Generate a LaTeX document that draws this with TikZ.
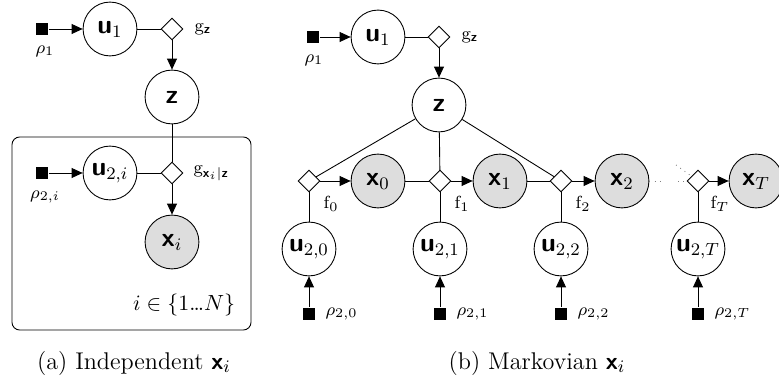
\documentclass[tikz,border=0pt]{standalone}
\usepackage{amsmath}
\usetikzlibrary{arrows.meta,shapes.geometric}
\definecolor{ObsGray}{HTML}{DDDDDD}
\definecolor{DotGray}{HTML}{808080}
\newcommand{\bv}[1]{\textsf{\bfseries #1}}

\tikzset{
  var/.style={circle,draw,fill=white,minimum size=24.5pt,inner sep=0pt,font=\large},
  obs/.style={var,fill=ObsGray},
  fac/.style={diamond,draw,fill=white,minimum size=10pt,inner sep=0pt},
  hyp/.style={rectangle,fill=black,minimum size=5.9pt,inner sep=0pt},
  arr/.style={-{Triangle[length=5pt,width=4.5pt]}},
  lbl/.style={font=\footnotesize,inner sep=1pt},
  capt/.style={font=\fontsize{11}{13}\selectfont},
}

\begin{document}
\begin{tikzpicture}[x=0.455pt,y=-0.455pt]
\useasboundingbox (0,0) rectangle (779,383);

% (a) independent x_i
\draw[rounded corners=3.5pt] (12,137) rectangle (251,330);
\node[hyp] (ra1) at (42,29) {};
\node[lbl] (ra1l) at (45,51) {$\rho_1$};
\node[var] (ua1) at (110,29) {$\bv{u}_1$};
\node[fac] (gaz) at (172,29) {};
\node[lbl,anchor=west] (gazl) at (192,29) {$\mathrm{g}_{\bv{z}}$};
\node[var] (za) at (172,97) {$\bv{z}$};
\node[hyp] (ra2) at (42,173) {};
\node[lbl] (ra2l) at (45,197) {$\rho_{2,i}$};
\node[var] (ua2) at (110,173) {$\bv{u}_{2,i}$};
\node[fac] (gax) at (172,173) {};
\node[lbl,anchor=west] (gaxl) at (191,173) {$\mathrm{g}_{\bv{x}_i|\bv{z}}$};
\node[obs] (xa) at (172,242) {$\bv{x}_i$};
\node[anchor=east] (plate) at (243,305) {$i\in\{1\text{\ldots}N\}$};

\draw[arr] (ra1) -- (ua1);
\draw (ua1) -- (gaz);
\draw[arr] (gaz) -- (za);
\draw (za) -- (gax);
\draw[arr] (ra2) -- (ua2);
\draw (ua2) -- (gax);
\draw[arr] (gax) -- (xa);

\node[capt] (capa) at (134,363) {(a) Independent $\bv{x}_i$};

% (b) markovian x_i
\node[hyp] (rb1) at (313,37) {};
\node[lbl] (rb1l) at (314,60) {$\rho_1$};
\node[var] (ub1) at (378,37) {$\bv{u}_1$};
\node[fac] (gbz) at (439,37) {};
\node[lbl,anchor=west] (gbzl) at (459,37) {$\mathrm{g}_{\bv{z}}$};
\node[var] (zb) at (439,105) {$\bv{z}$};
\draw[arr] (rb1) -- (ub1);
\draw (ub1) -- (gbz);
\draw[arr] (gbz) -- (zb);

\foreach \k/\fx/\xx in {0/309/378,1/440/500,2/561/622,T/698/756}{
  \node[obs] (x\k) at (\xx,181) {$\bv{x}_\k$};
  \node[var] (u\k) at (\fx,249) {$\bv{u}_{2,\k}$};
  \node[hyp] (r\k) at (\fx,314) {};
  \node[lbl,anchor=west] (r\k l) at (\fx+14,314) {$\rho_{2,\k}$};
  \node[lbl] (f\k l) at (\fx+22,204) {$\mathrm{f}_\k$};
  \draw[arr] (r\k) -- (u\k);
}
\foreach \k/\fx in {0/309,1/440,2/561,T/698}{
  \draw (u\k) -- (\fx,181);
}
\foreach \k/\fx in {0/309,1/440,2/561}
  \draw (zb) -- (\fx,181);
\coordinate (tail2) at (661,181);
\coordinate (headT) at (678,181);
\coordinate (slantT) at (676,165);
\draw[DotGray,dotted] (x2) -- (tail2);
\draw[DotGray,dotted] (headT) -- (698,181);
\draw[DotGray,dotted] (slantT) -- (698,181);
\node[fac] (f0) at (309,181) {};
\node[fac] (f1) at (440,181) {};
\node[fac] (f2) at (561,181) {};
\node[fac] (fT) at (698,181) {};
\draw[arr] (f0) -- (x0);
\draw (x0) -- (f1);
\draw[arr] (f1) -- (x1);
\draw (x1) -- (f2);
\draw[arr] (f2) -- (x2);
\draw[arr] (fT) -- (xT);

\node[capt] (capb) at (537,363) {(b) Markovian $\bv{x}_i$};
\end{tikzpicture}
\end{document}
